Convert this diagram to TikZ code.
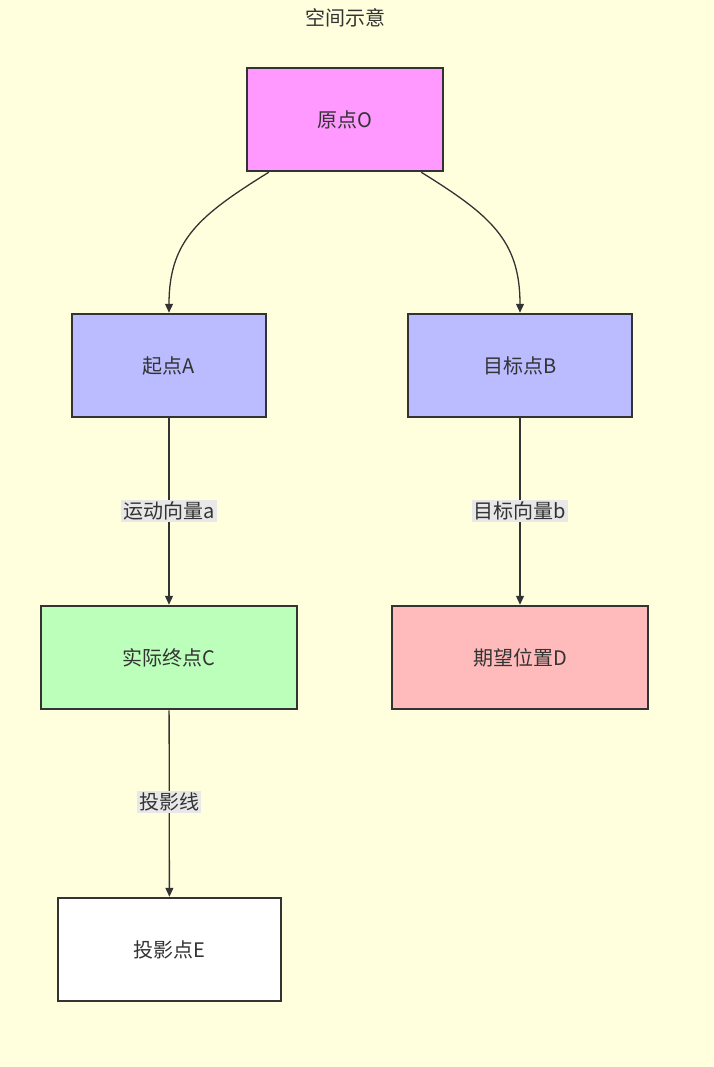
\documentclass[tikz,border=0pt]{standalone}
\usepackage{fontspec}
\setmainfont{Noto Sans CJK SC}
\usetikzlibrary{arrows.meta}
\definecolor{bg}{HTML}{FFFFDE}
\definecolor{ln}{HTML}{333333}
\definecolor{cO}{HTML}{FF99FF}
\definecolor{cA}{HTML}{BBBBFF}
\definecolor{cC}{HTML}{BBFFBB}
\definecolor{cD}{HTML}{FFBBBB}
\definecolor{lb}{HTML}{E8E8E8}
\begin{document}
\begin{tikzpicture}[x=1pt,y=-1pt,
  box/.style={draw=ln,line width=2.5pt,minimum height=103pt,inner sep=0pt,font=\fontsize{20}{24}\selectfont,text=ln},
  lab/.style={fill=lb,inner sep=2pt,font=\fontsize{20}{24}\selectfont,text=ln},
  arr/.style={draw=ln,line width=1.3pt,-{Triangle[length=9pt,width=8pt]}}]
\fill[bg] (0,0) rectangle (713,1067);
\node[font=\fontsize{20}{24}\selectfont,text=ln] (t) at (345,18) {空间示意};
\node[box,fill=cO,minimum width=196pt] (O) at (345,119.5) {原点O};
\node[box,fill=cA,minimum width=194pt] (A) at (169,365.5) {起点A};
\node[box,fill=cA,minimum width=224pt] (B) at (520,365.5) {目标点B};
\node[box,fill=cC,minimum width=256pt] (C) at (169,657.5) {实际终点C};
\node[box,fill=cD,minimum width=256pt] (D) at (520,657.5) {期望位置D};
\node[box,fill=white,minimum width=223pt] (E) at (169.5,949.5) {投影点E};
\draw[arr] (O.south west) ++(23,0) .. controls (200,215) and (169,240) .. (A.north);
\draw[arr] (O.south east) ++(-23,0) .. controls (490,215) and (520,240) .. (B.north);
\draw[arr] (A) -- (C);
\draw[arr] (B) -- (D);
\draw[arr] (C) -- (E);
\node[lab] (la) at (169,511) {运动向量a};
\node[lab] (lb2) at (520,511) {目标向量b};
\node[lab] (lc) at (169,802) {投影线};
\end{tikzpicture}
\end{document}
